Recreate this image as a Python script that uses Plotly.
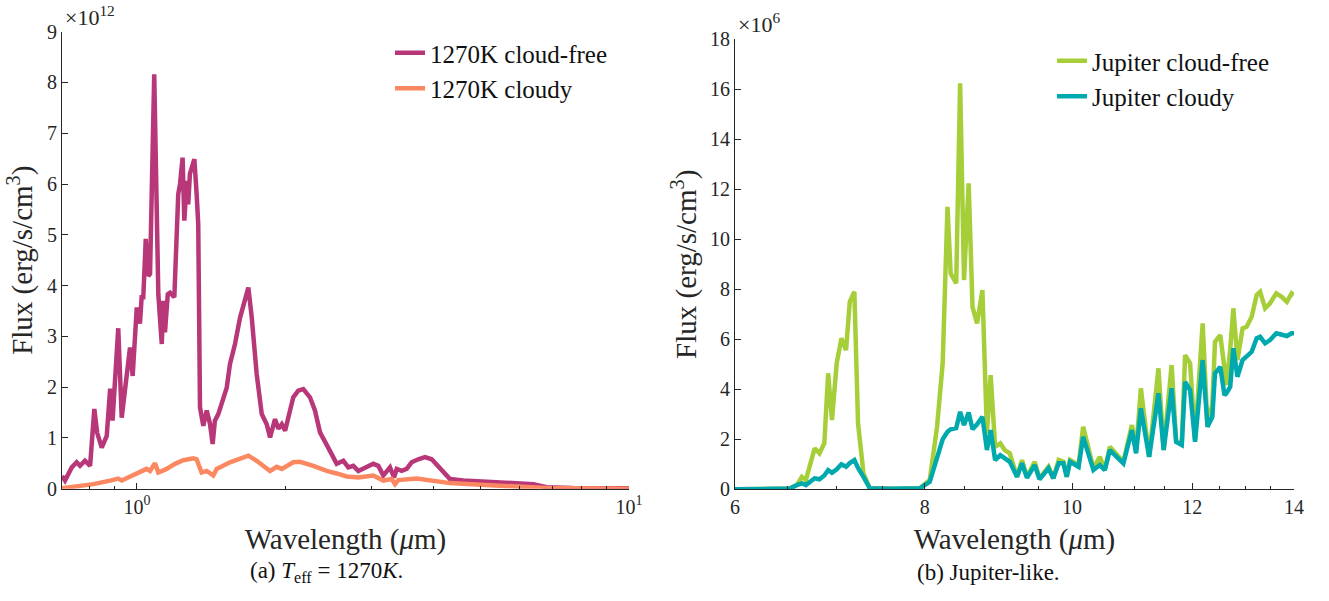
import plotly.graph_objects as go

# ---------------- Panel (a): T_eff = 1270 K (flux in units of 1e12) ----------------
wl_free_1270 = [0.704, 0.714, 0.737, 0.754, 0.766, 0.784, 0.803, 0.819, 0.830, 0.848,
                0.868, 0.882, 0.892, 0.916, 0.931, 0.953, 0.968, 0.980, 0.999, 1.014,
                1.022, 1.030, 1.042, 1.054, 1.063, 1.084, 1.105, 1.123, 1.131, 1.140,
                1.155, 1.167, 1.191, 1.213, 1.223, 1.238, 1.248, 1.262, 1.271, 1.281,
                1.308, 1.322, 1.332, 1.343, 1.364, 1.386, 1.407, 1.425, 1.440, 1.463,
                1.497, 1.522, 1.545, 1.582, 1.620, 1.658, 1.684, 1.711, 1.751, 1.793,
                1.835, 1.864, 1.908, 1.938, 1.969, 2.000, 2.030, 2.078, 2.127, 2.178,
                2.247, 2.300, 2.355, 2.430, 2.487, 2.546, 2.627, 2.689, 2.752, 2.818,
                2.931, 3.022, 3.094, 3.167, 3.268, 3.330, 3.372, 3.451, 3.533, 3.616,
                3.730, 3.849, 3.972, 4.097, 4.227, 4.327, 4.605, 4.979, 5.299, 5.820,
                6.391, 6.804, 7.695, 10.0]
flux_free_1270 = [0.25, 0.16, 0.42, 0.52, 0.45, 0.55, 0.45, 1.57, 1.10, 0.81,
                  1.04, 1.97, 1.34, 3.16, 1.40, 2.16, 2.78, 2.22, 3.57, 3.25,
                  3.77, 3.77, 4.92, 4.19, 4.23, 8.16, 3.83, 2.85, 3.70, 3.08,
                  3.83, 3.86, 3.77, 5.80, 6.00, 6.52, 5.28, 6.06, 5.60, 6.20,
                  6.49, 5.80, 5.21, 1.60, 1.24, 1.54, 1.28, 0.88, 1.34, 1.47,
                  1.80, 1.99, 2.45, 2.85, 3.37, 3.77, 3.96, 3.37, 2.26, 1.47,
                  1.27, 1.01, 1.37, 1.18, 1.27, 1.14, 1.37, 1.80, 1.93, 1.96,
                  1.80, 1.54, 1.11, 0.88, 0.68, 0.49, 0.55, 0.42, 0.45, 0.35,
                  0.42, 0.49, 0.45, 0.26, 0.42, 0.22, 0.39, 0.35, 0.39, 0.52,
                  0.58, 0.62, 0.58, 0.45, 0.29, 0.19, 0.16, 0.14, 0.12, 0.10,
                  0.09, 0.03, 0.015, 0.01]

wl_cloudy_1270 = [0.704, 0.760, 0.815, 0.882, 0.916, 0.931, 0.983, 1.046, 1.063, 1.088,
                  1.105, 1.149, 1.195, 1.242, 1.302, 1.322, 1.353, 1.386, 1.429, 1.452,
                  1.545, 1.620, 1.684, 1.751, 1.864, 1.923, 1.969, 2.078, 2.145, 2.282,
                  2.430, 2.546, 2.668, 2.818, 3.022, 3.167, 3.294, 3.346, 3.398, 3.703,
                  4.002, 4.327, 5.219, 6.098, 6.804, 10.0]
flux_cloudy_1270 = [0.01, 0.05, 0.09, 0.16, 0.20, 0.16, 0.26, 0.39, 0.35, 0.50,
                    0.32, 0.39, 0.49, 0.56, 0.60, 0.58, 0.32, 0.35, 0.26, 0.39,
                    0.52, 0.60, 0.65, 0.55, 0.35, 0.43, 0.39, 0.52, 0.53, 0.45,
                    0.35, 0.30, 0.24, 0.22, 0.26, 0.16, 0.19, 0.09, 0.17, 0.20,
                    0.16, 0.11, 0.07, 0.04, 0.015, 0.0]

# ---------------- Panel (b): Jupiter-like (flux in units of 1e6) ----------------
wl_jupiter = [6.00, 6.26, 6.52, 6.59, 6.64, 6.68, 6.72, 6.77, 6.82, 6.87,
              6.91, 6.95, 7.00, 7.05, 7.10, 7.14, 7.19, 7.23, 7.29, 7.36,
              7.60, 7.94, 8.06, 8.15, 8.22, 8.28, 8.32, 8.39, 8.44, 8.49,
              8.55, 8.60, 8.66, 8.73, 8.79, 8.84, 8.90, 8.97, 9.03, 9.10,
              9.20, 9.27, 9.34, 9.45, 9.52, 9.65, 9.72, 9.80, 9.87, 9.92,
              9.97, 10.10, 10.17, 10.33, 10.43, 10.51, 10.59, 10.81, 10.95, 11.02,
              11.10, 11.24, 11.40, 11.49, 11.63, 11.71, 11.81, 11.87, 11.96, 12.05,
              12.19, 12.28, 12.37, 12.42, 12.52, 12.60, 12.64, 12.71, 12.77, 12.85,
              12.95, 13.03, 13.13, 13.23, 13.30, 13.40, 13.50, 13.63, 13.74, 13.85,
              13.95, 14.00]
flux_jup_free = [0.00, 0.02, 0.03, 0.17, 0.50, 0.37, 0.90, 1.64, 1.44, 1.84,
                 4.64, 2.77, 5.04, 6.04, 5.57, 7.50, 7.90, 2.64, 0.64, 0.04,
                 0.02, 0.04, 0.37, 2.50, 5.04, 11.30, 8.64, 8.24, 16.24, 8.37,
                 12.24, 7.30, 6.64, 7.97, 2.24, 4.57, 1.70, 1.84, 1.57, 1.44,
                 0.50, 1.17, 0.50, 1.10, 0.44, 0.90, 0.44, 1.17, 1.10, 0.50,
                 1.17, 0.97, 2.50, 0.84, 1.30, 0.77, 1.70, 1.10, 2.57, 1.57,
                 4.04, 1.30, 4.84, 1.57, 4.97, 1.90, 1.84, 5.37, 5.04, 1.97,
                 6.64, 2.50, 3.40, 5.90, 6.17, 5.00, 4.17, 5.60, 7.24, 5.17,
                 6.44, 6.50, 6.90, 7.77, 7.90, 7.24, 7.44, 7.84, 7.70, 7.50,
                 7.84, 7.77]
flux_jup_cloudy = [0.00, 0.02, 0.03, 0.17, 0.24, 0.17, 0.30, 0.44, 0.40, 0.55,
                   0.77, 0.66, 0.80, 1.00, 0.90, 1.05, 1.17, 0.85, 0.50, 0.04,
                   0.02, 0.04, 0.30, 1.30, 2.00, 2.30, 2.40, 2.45, 3.10, 2.57,
                   3.07, 2.40, 2.60, 2.90, 1.57, 2.37, 1.17, 1.37, 1.25, 1.10,
                   0.50, 1.04, 0.46, 0.97, 0.40, 0.84, 0.44, 1.04, 1.04, 0.50,
                   1.10, 0.90, 2.10, 0.77, 0.97, 0.77, 1.57, 1.04, 2.37, 1.44,
                   3.24, 1.30, 3.84, 1.57, 4.04, 1.90, 1.77, 4.30, 3.97, 1.90,
                   5.17, 2.50, 2.90, 4.64, 4.90, 3.77, 3.85, 4.10, 5.64, 4.50,
                   5.17, 5.30, 5.50, 6.04, 6.10, 5.84, 5.97, 6.24, 6.20, 6.13,
                   6.24, 6.24]

names = ["1270K cloud-free", "1270K cloudy", "Jupiter cloud-free", "Jupiter cloudy"]
colors = ["#B73779", "#FB8861", "#A6CE39", "#00A9AE"]

FONT = "'Liberation Serif', 'Times New Roman', serif"
AX = "#262626"
W, H = 1329, 601

fig = go.Figure()
fig.add_trace(go.Scatter(x=wl_free_1270, y=flux_free_1270, mode="lines", name=names[0],
                         line=dict(color=colors[0], width=4.5), xaxis="x", yaxis="y", legend="legend"))
fig.add_trace(go.Scatter(x=wl_cloudy_1270, y=flux_cloudy_1270, mode="lines", name=names[1],
                         line=dict(color=colors[1], width=4.5), xaxis="x", yaxis="y", legend="legend"))
fig.add_trace(go.Scatter(x=wl_jupiter, y=flux_jup_free, mode="lines", name=names[2],
                         line=dict(color=colors[2], width=4.5), xaxis="x2", yaxis="y2", legend="legend2"))
fig.add_trace(go.Scatter(x=wl_jupiter, y=flux_jup_cloudy, mode="lines", name=names[3],
                         line=dict(color=colors[3], width=4.5), xaxis="x2", yaxis="y2", legend="legend2"))

common = dict(showline=True, linecolor=AX, linewidth=1, ticks="inside", tickcolor=AX,
              ticklen=6, showgrid=False, zeroline=False, mirror=False, automargin=False,
              tickfont=dict(family=FONT, size=20, color=AX))

xl0, xl1 = 62 / W, 629 / W
xr0, xr1 = 735 / W, 1294 / W
yl0, yl1 = 1 - 488.7 / H, 1 - 31.7 / H
yr0, yr1 = 1 - 489.3 / H, 1 - 39.3 / H

title_font = dict(family=FONT, size=29, color=AX)

fig.update_layout(
    width=W, height=H, margin=dict(l=0, r=0, t=0, b=0, autoexpand=False),
    paper_bgcolor="white", plot_bgcolor="white",
    font=dict(family=FONT),
    xaxis=dict(type="log", domain=[xl0, xl1], range=[-0.1524, 1.0], anchor="y",
               tickvals=[1, 10], ticktext=["10<sup>0</sup>", "10<sup>1</sup>"],
               minor=dict(tickvals=[0.8, 0.9, 2, 3, 4, 5, 6, 7, 8, 9], ticks="inside",
                          ticklen=3, tickcolor=AX),
               title=dict(text="Wavelength (<i>μ</i>m)", font=title_font, standoff=11),
               **common),
    yaxis=dict(domain=[yl0, yl1], range=[0, 9], dtick=1, anchor="x",
               title=dict(text="Flux (erg/s/cm<sup>3</sup>)", font=title_font, standoff=5),
               **common),
    xaxis2=dict(type="log", domain=[xr0, xr1], range=[0.778151, 1.146128], anchor="y2",
                tickvals=[6, 8, 10, 12, 14], ticktext=["6", "8", "10", "12", "14"],
                minor=dict(tickvals=[6.5, 7, 7.5, 8.5, 9, 9.5, 10.5, 11, 11.5, 12.5, 13, 13.5],
                           ticks="inside", ticklen=3, tickcolor=AX),
                title=dict(text="Wavelength (<i>μ</i>m)", font=title_font, standoff=11),
                **common),
    yaxis2=dict(domain=[yr0, yr1], range=[0, 18], dtick=2, anchor="x2",
                title=dict(text="Flux (erg/s/cm<sup>3</sup>)", font=title_font, standoff=4),
                **common),
    legend=dict(x=390 / W, y=1 - 30 / H, xanchor="left", yanchor="top",
                font=dict(family=FONT, size=25, color="#111111"), bgcolor="rgba(0,0,0,0)",
                tracegroupgap=0, itemwidth=30),
    legend2=dict(x=1052 / W, y=1 - 38 / H, xanchor="left", yanchor="top",
                 font=dict(family=FONT, size=25, color="#111111"), bgcolor="rgba(0,0,0,0)",
                 tracegroupgap=0, itemwidth=30),
    showlegend=True,
)

annos = [
    dict(text="×10<sup>12</sup>", x=63 / W, y=1 - 16 / H, xanchor="left", yanchor="middle",
         font=dict(family=FONT, size=22, color=AX)),
    dict(text="×10<sup>6</sup>", x=736 / W, y=1 - 23 / H, xanchor="left", yanchor="middle",
         font=dict(family=FONT, size=22, color=AX)),
    dict(text="(a) <i>T</i><sub>eff</sub> = 1270<i>K</i>.", x=326 / W, y=1 - 572 / H,
         xanchor="center", yanchor="middle", font=dict(family=FONT, size=23, color="#111111")),
    dict(text="(b) Jupiter-like.", x=988 / W, y=1 - 572 / H,
         xanchor="center", yanchor="middle", font=dict(family=FONT, size=23, color="#111111")),
]
for a in annos:
    fig.add_annotation(xref="paper", yref="paper", showarrow=False, **a)

fig.write_html("out.html", config={"displayModeBar": False},
               post_script="document.body.style.margin='0';document.body.style.overflow='hidden';")
